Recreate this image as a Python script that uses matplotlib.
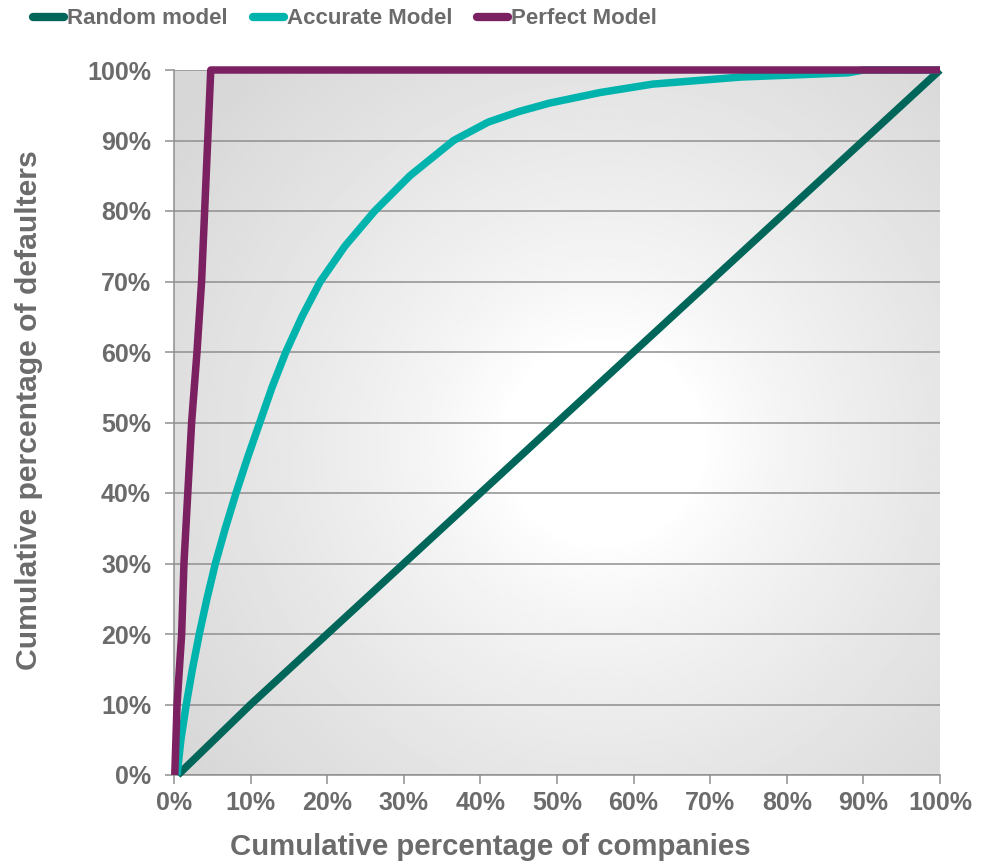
import numpy as np
import matplotlib
matplotlib.use("Agg")
import matplotlib.pyplot as plt
from matplotlib.lines import Line2D
from matplotlib.font_manager import FontProperties
from matplotlib.ticker import PercentFormatter, MultipleLocator

# Cumulative accuracy profile data (percent of companies vs percent of defaulters)
random_x = [0.5, 10, 20, 30, 40, 50, 60, 70, 80, 90, 100]
random_y = [0, 10, 20, 30, 40, 50, 60, 70, 80, 90, 100]

accurate_x = [0.4, 0.9, 1.6, 2.4, 3.3, 4.3, 5.4, 6.7, 8.1, 9.6, 11.2, 12.8,
              14.6, 16.7, 19.1, 22.3, 26.2, 30.8, 36.5, 41.0, 45.0, 49.0,
              55.6, 62.5, 74.0, 88.0, 90.0, 100.0]
accurate_y = [0, 5, 10, 15, 20, 25, 30, 35, 40, 45, 50, 55,
              60, 65, 70, 75, 80, 85, 90, 92.6, 94.1, 95.3,
              96.8, 98.0, 99.0, 99.6, 100.0, 100.0]

perfect_x = [0.1, 0.4, 1.0, 1.3, 1.8, 2.3, 3.0, 3.6, 4.0, 4.4, 4.8, 100.0]
perfect_y = [0, 10, 20, 30, 40, 50, 60, 70, 80, 90, 100, 100]

series_names = ["Random model", "Accurate Model", "Perfect Model"]
series_colors = ["#00665a", "#00b4ad", "#7b2161"]

x_title = "Cumulative percentage of companies"
y_title = "Cumulative percentage of defaulters"

TEXT = "#6b6b6b"
GRID = "#8f8f8f"

W, H = 991, 866
fig = plt.figure(figsize=(W / 100, H / 100), dpi=100)
fig.patch.set_facecolor("white")

left, right, bottom, top = 174, 940, 775, 70
ax = fig.add_axes([left / W, 1 - bottom / H, (right - left) / W, (bottom - top) / H])

# radial grey-to-white fill of the plot area
pw, ph = right - left, bottom - top
gx = np.linspace(0, 1, 400)
gy = np.linspace(0, 1, 400)
GX, GY = np.meshgrid(gx, gy)
cx, cy = 0.56, 0.47
d = np.hypot((GX - cx) * pw, (GY - cy) * ph)
t = np.clip((d - 100) / 440, 0, 1) ** 0.8
shade = 1 - 0.16 * t
ax.imshow(shade, extent=[0, 100, 0, 100], origin="lower", aspect="auto",
          cmap="gray", vmin=0, vmax=1, interpolation="bilinear", zorder=0.1)

ax.set_xlim(0, 100)
ax.set_ylim(0, 100)
ax.set_axisbelow(True)
ax.yaxis.grid(True, color=GRID, lw=1.1)
ax.xaxis.grid(False)

lw = 5.4
for xs, ys, c, name in zip([random_x, accurate_x, perfect_x],
                           [random_y, accurate_y, perfect_y],
                           series_colors, series_names):
    ax.plot(xs, ys, color=c, lw=lw, solid_capstyle="butt",
            solid_joinstyle="round", clip_on=False, zorder=3, label=name)

for s in ["top", "right"]:
    ax.spines[s].set_visible(False)
for s in ["left", "bottom"]:
    ax.spines[s].set_color(GRID)
    ax.spines[s].set_linewidth(1.1)

ax.xaxis.set_major_locator(MultipleLocator(10))
ax.yaxis.set_major_locator(MultipleLocator(10))
ax.xaxis.set_major_formatter(PercentFormatter(decimals=0))
ax.yaxis.set_major_formatter(PercentFormatter(decimals=0))

tick_fp = FontProperties(family="Liberation Sans", weight="bold", size=18)
ax.tick_params(axis="both", direction="out", length=6.5, width=1.1,
               color=GRID, labelcolor=TEXT)
ax.tick_params(axis="x", pad=5)
ax.tick_params(axis="y", pad=10)
for lab in ax.get_xticklabels() + ax.get_yticklabels():
    lab.set_fontproperties(tick_fp)

fig.text(490 / W, 1 - 847 / H, x_title, ha="center", va="center",
         family="Liberation Sans", weight="bold", size=21.2, color=TEXT)
fig.text(29 / W, 1 - 410 / H, y_title, ha="center", va="center",
         rotation=90, family="Liberation Sans", weight="bold", size=21.7,
         color=TEXT)

handles = [Line2D([], [], color=c, lw=6, solid_capstyle="round")
           for c in series_colors]
leg = fig.legend(handles, series_names, loc="center left",
                 bbox_to_anchor=(33 / W, 1 - 19 / H), ncol=3, frameon=False,
                 handlelength=1.4, handletextpad=0.15, columnspacing=1.1,
                 borderaxespad=0, borderpad=0,
                 prop=FontProperties(family="Liberation Sans", weight="bold",
                                     size=16))
for txt in leg.get_texts():
    txt.set_color(TEXT)

fig.savefig("out.png", dpi=100, facecolor="white")
